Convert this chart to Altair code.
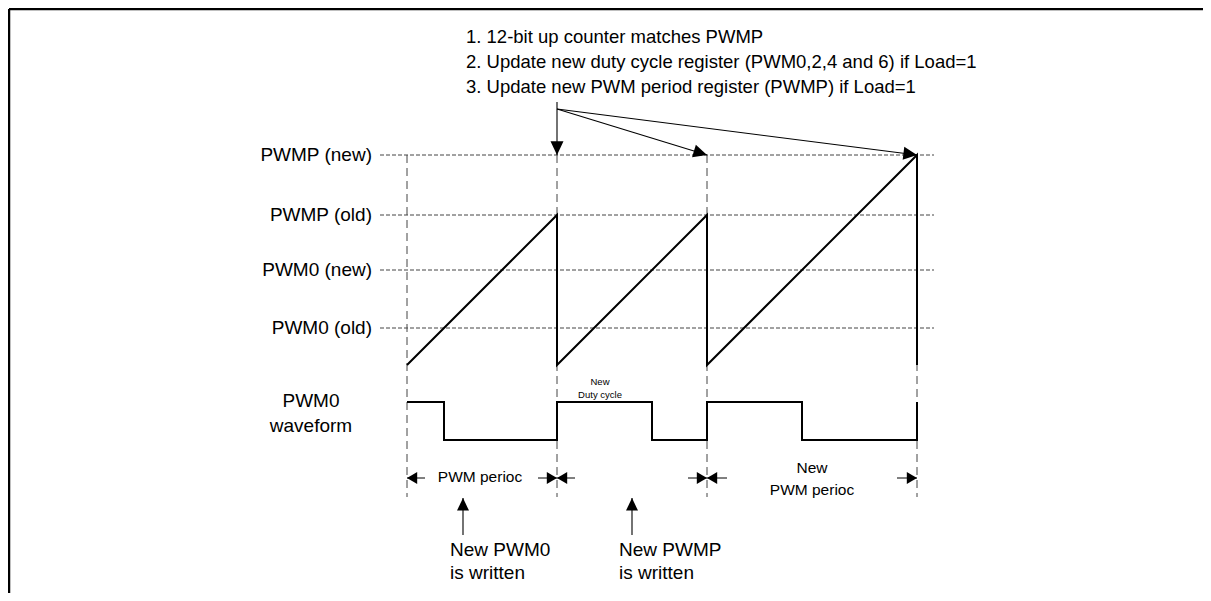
import altair as alt
import pandas as pd
import numpy as np

# ---------------- data (register values / timings in counter ticks) ----------------
LEVEL_LABELS = ["PWMP (new)", "PWMP (old)", "PWM0 (new)", "PWM0 (old)"]
LEVEL_VALUES = [210, 150, 95, 37]
PERIOD_LENGTHS = [150, 150, 210]      # counter top value for each period
DUTY_VALUES = [37, 95, 95]            # PWM0 compare value used in each period
TOP_NOTES = [
    "1. 12-bit up counter matches PWMP",
    "2. Update new duty cycle register (PWM0,2,4 and 6) if Load=1",
    "3. Update new PWM period register (PWMP) if Load=1",
]
WAVE_LABEL = ["PWM0", "waveform"]
DUTY_NOTE = ["New", "Duty cycle"]
PERIOD_NOTE_1 = ["PWM perioc"]
PERIOD_NOTE_3 = ["New", "PWM perioc"]
WRITE_NOTES = [["New PWM0", "is written"], ["New PWMP", "is written"]]
WRITE_TIMES = [56, 225]

# ---------------- layout (ticks == pixels) ----------------
W, H = 1195, 585
X0, Y0 = -399, -228
XS = alt.Scale(domain=[X0, X0 + W], nice=False, zero=False)
YS = alt.Scale(domain=[Y0, Y0 + H], nice=False, zero=False)
WAVE_HIGH, WAVE_LOW = -37, -75
ARROW_ROW = -113
DASH_BOTTOM = -132
LEVEL_X = (-27, 527)
FONT = "Liberation Sans"

starts = np.concatenate([[0], np.cumsum(PERIOD_LENGTHS)[:-1]])
ends = starts + np.array(PERIOD_LENGTHS)
T_END = int(ends[-1])

# counter sawtooth
saw = []
for s, p in zip(starts, PERIOD_LENGTHS):
    saw += [(s, 0), (s + p, p), (s + p, 0)]
saw_df = pd.DataFrame(saw, columns=["t", "c"])
saw_df["i"] = range(len(saw_df))

# PWM0 waveform
wav = []
for s, p, d in zip(starts, PERIOD_LENGTHS, DUTY_VALUES):
    wav += [(s, WAVE_HIGH), (s + d, WAVE_HIGH), (s + d, WAVE_LOW), (s + p, WAVE_LOW)]
wav.append((T_END, WAVE_HIGH))
wav_df = pd.DataFrame(wav, columns=["t", "c"])
wav_df["i"] = range(len(wav_df))

X = lambda f="t": alt.X(f"{f}:Q", scale=XS, axis=None)
Y = lambda f="c": alt.Y(f"{f}:Q", scale=YS, axis=None)

layers = []

# frame
frame_df = pd.DataFrame({"t": [X0 + 1, X0 + 1], "t2": [X0 + W, X0 + 1],
                         "c": [Y0 + H - 1, Y0 + H - 1], "c2": [Y0 + H - 1, Y0]})
layers.append(alt.Chart(frame_df).mark_rule(color="black", strokeWidth=2.5).encode(
    x=X(), x2="t2:Q", y=Y(), y2="c2:Q"))

# horizontal dashed level lines
lvl_df = pd.DataFrame({"c": LEVEL_VALUES, "label": LEVEL_LABELS})
lvl_df["t"], lvl_df["t2"] = LEVEL_X
layers.append(alt.Chart(lvl_df).mark_rule(color="#444", strokeWidth=1, strokeDash=[4, 2]).encode(
    x=X(), x2="t2:Q", y=Y()))
layers.append(alt.Chart(lvl_df).mark_text(align="right", baseline="middle", font=FONT,
                                          fontSize=19, dx=-8, color="black").encode(
    x=X(), y=Y(), text="label:N"))

# vertical dashed period boundaries
bnd_df = pd.DataFrame({"t": list(starts) + [T_END]})
bnd_df["c"], bnd_df["c2"] = max(LEVEL_VALUES), DASH_BOTTOM
layers.append(alt.Chart(bnd_df).mark_rule(color="#444", strokeWidth=1, strokeDash=[8, 5]).encode(
    x=X(), y=Y(), y2="c2:Q"))

# sawtooth and waveform
layers.append(alt.Chart(saw_df).mark_line(color="black", strokeWidth=2, strokeJoin="miter").encode(
    x=X(), y=Y(), order="i:Q"))
layers.append(alt.Chart(wav_df).mark_line(color="black", strokeWidth=2, strokeJoin="miter").encode(
    x=X(), y=Y(), order="i:Q"))

# ---------------- arrows ----------------
def arrow_df(rows):
    df = pd.DataFrame(rows, columns=["t", "c", "t2", "c2"])  # tail -> tip
    dx = df["t2"] - df["t"]
    dy = -(df["c2"] - df["c"])
    df["ang"] = (np.degrees(np.arctan2(-dx, dy)) + 360) % 360
    return df

top_level = max(LEVEL_VALUES)
top_arrows = arrow_df([
    (starts[1], 263, starts[1], top_level),
    (starts[1], 256, starts[2], top_level),
    (starts[1], 256, T_END, top_level),
])
per_arrows = arrow_df([
    (18, ARROW_ROW, 0, ARROW_ROW),
    (131, ARROW_ROW, 150, ARROW_ROW),
    (168, ARROW_ROW, 150, ARROW_ROW),
    (281, ARROW_ROW, 300, ARROW_ROW),
    (320, ARROW_ROW, 300, ARROW_ROW),
    (490, ARROW_ROW, T_END, ARROW_ROW),
])
up_arrows = arrow_df([(t, -170, t, -133) for t in WRITE_TIMES])

HEAD_BIG = "M0,0L-1,-2.1L1,-2.1Z"
HEAD_SMALL = "M0,0L-1,-1.7L1,-1.7Z"

for df, sw, shape, size in [(top_arrows, 1.1, HEAD_BIG, 169),
                            (per_arrows, 1.0, HEAD_SMALL, 144),
                            (up_arrows, 1.1, HEAD_BIG, 144)]:
    layers.append(alt.Chart(df).mark_rule(color="black", strokeWidth=sw).encode(
        x=X(), x2="t2:Q", y=Y(), y2="c2:Q"))
    layers.append(alt.Chart(df).mark_point(shape=shape, filled=True, color="black",
                                           opacity=1, strokeWidth=0, size=size).encode(
        x=X("t2"), y=Y("c2"), angle=alt.Angle("ang:Q", scale=None)))

# ---------------- texts ----------------
def text_layer(lines, t, c_first, step, size, align="center"):
    df = pd.DataFrame({"text": lines})
    df["t"] = t
    df["c"] = [c_first - k * step for k in range(len(lines))]
    return alt.Chart(df).mark_text(align=align, baseline="middle", font=FONT,
                                   fontSize=size, color="black").encode(
        x=X(), y=Y(), text="text:N")

layers.append(text_layer(TOP_NOTES, 59, 328, 25, 18.5, "left"))
layers.append(text_layer(WAVE_LABEL, -96, -36, 25, 19))
layers.append(text_layer(DUTY_NOTE, 193, -17, 13, 9.5))
layers.append(text_layer(PERIOD_NOTE_1, 73, ARROW_ROW + 1, 0, 15.5))
layers.append(text_layer(PERIOD_NOTE_3, 405, -103, 22, 15.5))
for lines, t in zip(WRITE_NOTES, [43, 212]):
    layers.append(text_layer(lines, t, -185, 23, 19, "left"))

chart = alt.layer(*layers).properties(
    width=W, height=H, padding=0, autosize=alt.AutoSizeParams(type="none")
).configure_view(stroke=None)

chart.save("out.html", embed_options={"renderer": "svg", "actions": False})
